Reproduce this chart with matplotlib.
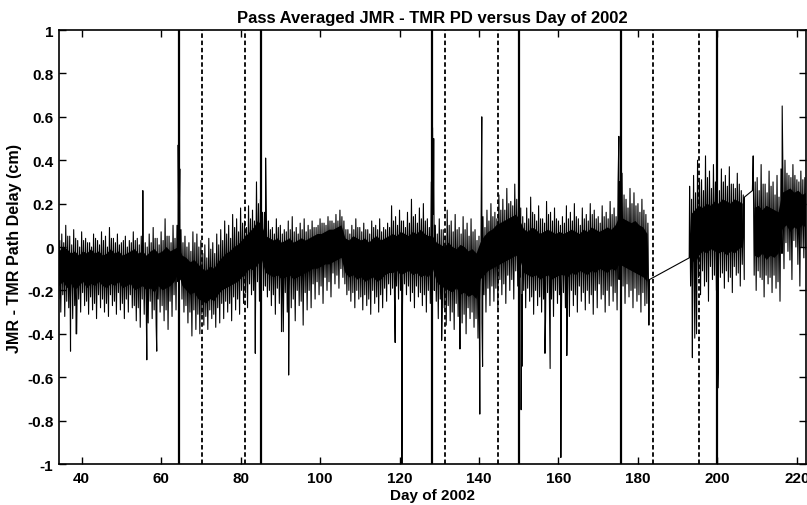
#!/usr/bin/env python3
# -*- coding: utf-8 -*-

#------------------------------------------------------------------------------
# PLOT: pass averaged JMR - TMR path delay versus day of 2002
#------------------------------------------------------------------------------

import numpy as np
import matplotlib
matplotlib.use('Agg')
import matplotlib.pyplot as plt; plt.close('all')

#------------------------------------------------------------------------------
# SETTINGS
#------------------------------------------------------------------------------

fontsize = 11
plt.rcParams['font.family'] = ['Liberation Sans', 'DejaVu Sans']
plt.rcParams['font.weight'] = 'bold'

#------------------------------------------------------------------------------
# DATA: per day two upper and two lower pass values,
# the solid core of the band, isolated spikes and the event markers
#------------------------------------------------------------------------------

nan = np.nan
day = np.arange(34, 223)

pd_hi = [
    0.09, 0.06, 0.10, 0.05, 0.08, 0.03, 0.07, 0.04, 0.02, 0.06,   # 34-43
    0.03, 0.07, 0.05, 0.09, 0.04, 0.06, 0.02, 0.05, 0.03, 0.07,   # 44-53
    0.04, 0.05, 0.02, 0.06, 0.09, 0.04, 0.07, 0.13, 0.05, 0.10,   # 54-63
    0.10, 0.08, 0.05, 0.02, 0.07, 0.06, 0.03, 0.01, 0.04, 0.02,   # 64-73
    0.06, 0.08, 0.12, 0.10, 0.15, 0.13, 0.18, 0.12, 0.19, 0.17,   # 74-83
    0.30, 0.22, 0.16, 0.12, 0.09, 0.13, 0.10, 0.08, 0.12, 0.14,   # 84-93
    0.09, 0.11, 0.13, 0.10, 0.12, 0.09, 0.13, 0.11, 0.14, 0.12,   # 94-103
    0.15, 0.17, 0.12, 0.08, 0.10, 0.13, 0.09, 0.11, 0.08, 0.12,   # 104-113
    0.10, 0.13, 0.09, 0.11, 0.19, 0.14, 0.17, 0.12, 0.16, 0.22,   # 114-123
    0.15, 0.18, 0.20, 0.13, 0.30, 0.10, 0.13, 0.08, 0.17, 0.12,   # 124-133
    0.15, 0.09, 0.14, 0.11, 0.13, 0.08, 0.05, 0.14, 0.17, 0.20,   # 134-143
    0.16, 0.24, 0.22, 0.27, 0.21, 0.29, 0.25, 0.14, 0.18, 0.23,   # 144-153
    0.15, 0.19, 0.13, 0.21, 0.16, 0.18, 0.12, 0.14, 0.19, 0.16,   # 154-163
    0.20, 0.13, 0.18, 0.15, 0.20, 0.17, 0.14, 0.19, 0.16, 0.21,   # 164-173
    0.18, 0.30, 0.34, 0.22, 0.27, 0.25, 0.20, 0.22, 0.15, nan,    # 174-183
    nan, nan, nan, nan, nan, nan, nan, nan, nan, 0.28,            # 184-193
    0.33, 0.40, 0.31, 0.42, 0.35, 0.38, 0.30, 0.36, 0.33, 0.37,   # 194-203
    0.29, 0.34, 0.26, nan, nan, 0.42, 0.32, 0.38, 0.29, 0.35,     # 204-213
    0.30, 0.33, 0.36, 0.40, 0.33, 0.38, 0.31, 0.35, 0.32]         # 214-222

pd_hi2 = [
    0.03, 0.02, 0.05, 0.01, 0.04, 0.00, 0.03, 0.02, 0.00, 0.04,   # 34-43
    0.01, 0.03, 0.00, 0.04, 0.02, 0.01, 0.03, 0.00, 0.02, 0.03,   # 44-53
    0.01, 0.03, 0.00, 0.02, 0.04, 0.01, 0.03, 0.05, 0.02, 0.04,   # 54-63
    0.05, 0.02, 0.00, -0.02, 0.02, 0.00, -0.03, -0.05, -0.01, -0.03,  # 64-73
    0.01, 0.03, 0.06, 0.04, 0.09, 0.07, 0.11, 0.09, 0.13, 0.12,   # 74-83
    0.20, 0.16, 0.10, 0.08, 0.06, 0.09, 0.06, 0.07, 0.08, 0.07,   # 84-93
    0.06, 0.08, 0.07, 0.08, 0.09, 0.10, 0.11, 0.10, 0.12, 0.11,   # 94-103
    0.12, 0.14, 0.08, 0.06, 0.08, 0.09, 0.07, 0.08, 0.06, 0.09,   # 104-113
    0.08, 0.07, 0.08, 0.09, 0.12, 0.10, 0.12, 0.09, 0.11, 0.14,   # 114-123
    0.11, 0.13, 0.12, 0.09, 0.15, 0.06, 0.08, 0.05, 0.10, 0.07,   # 124-133
    0.08, 0.06, 0.08, 0.05, 0.07, 0.03, 0.04, 0.09, 0.12, 0.14,   # 134-143
    0.13, 0.17, 0.17, 0.20, 0.19, 0.22, 0.18, 0.11, 0.13, 0.16,   # 144-153
    0.12, 0.13, 0.11, 0.15, 0.12, 0.13, 0.10, 0.11, 0.13, 0.12,   # 154-163
    0.14, 0.10, 0.13, 0.12, 0.15, 0.13, 0.11, 0.14, 0.13, 0.15,   # 164-173
    0.14, 0.22, 0.24, 0.18, 0.20, 0.19, 0.16, 0.17, 0.11, nan,    # 174-183
    nan, nan, nan, nan, nan, nan, nan, nan, nan, 0.22,            # 184-193
    0.25, 0.30, 0.26, 0.32, 0.27, 0.30, 0.26, 0.30, 0.28, 0.29,   # 194-203
    0.27, 0.29, 0.24, nan, nan, 0.30, 0.26, 0.29, 0.25, 0.28,     # 204-213
    0.24, 0.23, 0.31, 0.34, 0.32, 0.33, 0.30, 0.31, 0.30]         # 214-222

pd_lo = [
    -0.30, -0.32, -0.28, -0.33, -0.40, -0.30, -0.27, -0.31, -0.29, -0.33,   # 34-43
    -0.28, -0.30, -0.32, -0.27, -0.31, -0.29, -0.33, -0.30, -0.28, -0.34,   # 44-53
    -0.37, -0.31, -0.35, -0.33, -0.36, -0.30, -0.34, -0.38, -0.32, -0.29,   # 54-63
    -0.15, -0.30, -0.35, -0.41, -0.38, -0.40, -0.36, -0.38, -0.33, -0.37,   # 64-73
    -0.35, -0.33, -0.30, -0.34, -0.29, -0.31, -0.26, -0.28, -0.22, -0.30,   # 74-83
    -0.25, -0.20, -0.23, -0.27, -0.31, -0.26, -0.39, -0.30, -0.28, -0.34,   # 84-93
    -0.27, -0.36, -0.29, -0.28, -0.24, -0.22, -0.26, -0.20, -0.23, -0.17,   # 94-103
    -0.19, -0.14, -0.22, -0.25, -0.28, -0.24, -0.29, -0.27, -0.31, -0.26,   # 104-113
    -0.30, -0.28, -0.25, -0.22, -0.26, -0.24, -0.27, -0.22, -0.25, -0.28,   # 114-123
    -0.23, -0.27, -0.30, -0.26, -0.20, -0.33, -0.30, -0.36, -0.34, -0.38,   # 124-133
    -0.32, -0.35, -0.40, -0.33, -0.37, -0.42, -0.35, -0.30, -0.27, -0.25,   # 134-143
    -0.28, -0.22, -0.26, -0.20, -0.24, -0.18, -0.22, -0.28, -0.25, -0.31,   # 144-153
    -0.27, -0.30, -0.33, -0.29, -0.32, -0.26, -0.30, -0.28, -0.32, -0.27,   # 154-163
    -0.30, -0.25, -0.29, -0.26, -0.31, -0.28, -0.24, -0.30, -0.27, -0.25,   # 164-173
    -0.29, -0.22, -0.26, -0.23, -0.28, -0.25, -0.30, -0.27, -0.36, nan,     # 174-183
    nan, nan, nan, nan, nan, nan, nan, nan, nan, -0.30,                     # 184-193
    -0.40, -0.22, -0.18, -0.25, -0.15, -0.20, -0.14, -0.19, -0.16, -0.21,   # 194-203
    -0.13, -0.18, -0.15, nan, nan, -0.20, -0.14, -0.23, -0.17, -0.21,       # 204-213
    -0.19, -0.25, -0.10, -0.02, -0.15, 0.00, -0.18, -0.05, -0.08]           # 214-222

pd_lo2 = [
    -0.24, -0.22, -0.25, -0.23, -0.27, -0.24, -0.21, -0.25, -0.23, -0.26,   # 34-43
    -0.22, -0.24, -0.26, -0.22, -0.25, -0.21, -0.26, -0.24, -0.22, -0.27,   # 44-53
    -0.28, -0.24, -0.27, -0.25, -0.29, -0.24, -0.27, -0.29, -0.25, -0.22,   # 54-63
    -0.16, -0.24, -0.27, -0.30, -0.29, -0.31, -0.31, -0.32, -0.29, -0.31,   # 64-73
    -0.28, -0.26, -0.25, -0.26, -0.23, -0.24, -0.20, -0.21, -0.17, -0.20,   # 74-83
    -0.16, -0.12, -0.18, -0.20, -0.22, -0.19, -0.25, -0.21, -0.20, -0.24,   # 84-93
    -0.20, -0.25, -0.21, -0.20, -0.17, -0.16, -0.18, -0.14, -0.16, -0.12,   # 94-103
    -0.13, -0.10, -0.17, -0.20, -0.21, -0.20, -0.23, -0.22, -0.24, -0.20,   # 104-113
    -0.23, -0.22, -0.19, -0.17, -0.19, -0.18, -0.20, -0.17, -0.18, -0.21,   # 114-123
    -0.18, -0.21, -0.22, -0.20, -0.15, -0.25, -0.24, -0.28, -0.27, -0.30,   # 124-133
    -0.26, -0.29, -0.31, -0.28, -0.30, -0.33, -0.25, -0.22, -0.19, -0.18,   # 134-143
    -0.19, -0.15, -0.17, -0.13, -0.15, -0.11, -0.14, -0.20, -0.19, -0.23,   # 144-153
    -0.20, -0.23, -0.24, -0.21, -0.24, -0.20, -0.22, -0.21, -0.24, -0.20,   # 154-163
    -0.22, -0.18, -0.21, -0.20, -0.22, -0.20, -0.17, -0.22, -0.20, -0.18,   # 164-173
    -0.21, -0.15, -0.18, -0.17, -0.20, -0.19, -0.22, -0.21, -0.26, nan,     # 174-183
    nan, nan, nan, nan, nan, nan, nan, nan, nan, -0.18,                     # 184-193
    -0.25, -0.14, -0.11, -0.16, -0.09, -0.13, -0.10, -0.12, -0.11, -0.14,   # 194-203
    -0.09, -0.12, -0.08, nan, nan, -0.13, -0.11, -0.15, -0.13, -0.14,       # 204-213
    -0.13, -0.16, -0.03, 0.02, -0.06, 0.03, -0.08, 0.00, -0.01]             # 214-222

core_hi = [
    -0.02, 0.00, -0.01, -0.03, -0.02, -0.04, -0.02, -0.03, -0.01, -0.03,    # 34-43
    -0.02, -0.04, -0.03, -0.01, -0.03, -0.02, -0.04, -0.03, -0.02, -0.01,   # 44-53
    -0.03, -0.02, -0.04, -0.02, -0.01, -0.03, -0.02, 0.00, -0.02, -0.01,    # 54-63
    0.00, -0.04, -0.05, -0.07, -0.06, -0.08, -0.10, -0.11, -0.09, -0.10,    # 64-73
    -0.07, -0.05, -0.03, -0.02, 0.00, 0.01, 0.03, 0.05, 0.07, 0.09,         # 74-83
    0.12, 0.10, 0.05, 0.04, 0.03, 0.04, 0.02, 0.03, 0.04, 0.02,             # 84-93
    0.03, 0.04, 0.03, 0.04, 0.05, 0.06, 0.06, 0.07, 0.08, 0.08,             # 94-103
    0.09, 0.10, 0.04, 0.03, 0.05, 0.04, 0.03, 0.04, 0.02, 0.04,             # 104-113
    0.05, 0.03, 0.04, 0.05, 0.06, 0.05, 0.07, 0.06, 0.05, 0.07,             # 114-123
    0.06, 0.08, 0.06, 0.05, 0.05, 0.02, 0.01, 0.00, 0.02, 0.00,             # 124-133
    -0.01, 0.01, 0.00, -0.02, -0.01, -0.03, 0.02, 0.05, 0.07, 0.08,         # 134-143
    0.10, 0.11, 0.12, 0.13, 0.14, 0.15, 0.12, 0.08, 0.07, 0.09,             # 144-153
    0.08, 0.06, 0.07, 0.08, 0.07, 0.06, 0.07, 0.06, 0.07, 0.08,             # 154-163
    0.07, 0.06, 0.08, 0.07, 0.09, 0.08, 0.07, 0.08, 0.09, 0.08,             # 164-173
    0.10, 0.14, 0.13, 0.12, 0.11, 0.12, 0.10, 0.09, 0.06, nan,              # 174-183
    nan, nan, nan, nan, nan, nan, nan, nan, nan, 0.15,                      # 184-193
    0.17, 0.19, 0.18, 0.20, 0.19, 0.21, 0.20, 0.22, 0.21, 0.20,             # 194-203
    0.22, 0.21, 0.20, nan, nan, 0.18, 0.19, 0.17, 0.19, 0.18,               # 204-213
    0.17, 0.16, 0.25, 0.26, 0.27, 0.25, 0.26, 0.24, 0.25]                   # 214-222

core_lo = [
    -0.18, -0.16, -0.19, -0.17, -0.20, -0.18, -0.16, -0.19, -0.17, -0.18,   # 34-43
    -0.16, -0.18, -0.19, -0.17, -0.18, -0.16, -0.19, -0.18, -0.17, -0.20,   # 44-53
    -0.19, -0.18, -0.20, -0.19, -0.21, -0.18, -0.20, -0.19, -0.18, -0.16,   # 54-63
    -0.12, -0.18, -0.20, -0.22, -0.21, -0.24, -0.25, -0.26, -0.24, -0.25,   # 64-73
    -0.22, -0.20, -0.19, -0.18, -0.17, -0.16, -0.14, -0.12, -0.10, -0.11,   # 74-83
    -0.08, -0.06, -0.12, -0.13, -0.14, -0.13, -0.15, -0.14, -0.13, -0.15,   # 84-93
    -0.14, -0.13, -0.12, -0.11, -0.10, -0.10, -0.09, -0.08, -0.08, -0.07,   # 94-103
    -0.06, -0.05, -0.12, -0.14, -0.13, -0.15, -0.14, -0.16, -0.15, -0.14,   # 104-113
    -0.16, -0.15, -0.13, -0.12, -0.12, -0.11, -0.13, -0.12, -0.11, -0.13,   # 114-123
    -0.12, -0.14, -0.13, -0.14, -0.10, -0.16, -0.18, -0.19, -0.20, -0.21,   # 124-133
    -0.19, -0.22, -0.21, -0.23, -0.22, -0.24, -0.15, -0.13, -0.11, -0.10,   # 134-143
    -0.09, -0.08, -0.07, -0.06, -0.05, -0.04, -0.06, -0.12, -0.13, -0.14,   # 144-153
    -0.13, -0.15, -0.14, -0.13, -0.15, -0.14, -0.13, -0.13, -0.14, -0.12,   # 154-163
    -0.13, -0.11, -0.12, -0.13, -0.11, -0.12, -0.10, -0.11, -0.12, -0.10,   # 164-173
    -0.11, -0.08, -0.09, -0.10, -0.11, -0.12, -0.13, -0.14, -0.16, nan,     # 174-183
    nan, nan, nan, nan, nan, nan, nan, nan, nan, -0.05,                     # 184-193
    -0.08, -0.04, -0.02, -0.03, -0.01, -0.02, -0.03, -0.02, -0.04, -0.02,   # 194-203
    -0.03, -0.01, 0.00, nan, nan, -0.04, -0.05, -0.03, -0.06, -0.04,        # 204-213
    -0.05, -0.03, 0.08, 0.10, 0.07, 0.09, 0.08, 0.10, 0.09]                 # 214-222

# isolated spikes and the end points either side of the two data gaps
spike_day = [37.2, 38.6, 55.4, 56.4, 58.9, 64.3, 64.4, 64.45, 64.6, 64.7, 64.8,
             83.7, 86.3, 90.3, 92.1, 118.9, 120.6, 128.3, 128.4, 128.6, 128.8,
             130.6, 135.2, 140.2, 140.7, 140.9, 150.6, 150.8, 156.6, 157.9,
             160.6, 162.1, 175.2, 175.4, 182.9, 192.9, 193.7, 194.3, 200.1,
             200.2, 206.8, 208.8, 216.3]
spike_val = [-0.48, -0.40, 0.26, -0.52, -0.48, 0.47, 0.21, 0.38, 0.22, 0.36, -0.10,
             -0.49, 0.41, -0.39, -0.59, -0.44, -1.00, 0.55, 0.20, 0.50, 0.10,
             -0.43, -0.47, -0.77, 0.60, -0.55, -0.75, -0.55, -0.49, -0.56,
             -0.97, -0.50, 0.51, 0.30, -0.15, -0.05, -0.51, -0.42, -0.65,
             -0.55, 0.23, 0.26, 0.65]

solid_days = [64.5, 85.2, 128.2, 150.1, 175.7, 199.8]
dashed_days = [70.2, 81.1, 131.5, 144.9, 183.8, 195.3]

xticks = [40, 60, 80, 100, 120, 140, 160, 180, 200, 220]
yticks = [-1, -0.8, -0.6, -0.4, -0.2, 0, 0.2, 0.4, 0.6, 0.8, 1]
yticklabels = ['-1', '-0.8', '-0.6', '-0.4', '-0.2', '0', '0.2', '0.4', '0.6', '0.8', '1']

#------------------------------------------------------------------------------
# BUILD the pass series: four passes a day swinging between the extents
#------------------------------------------------------------------------------

pd_hi = np.array(pd_hi); pd_lo = np.array(pd_lo)
pd_hi2 = np.array(pd_hi2); pd_lo2 = np.array(pd_lo2)
core_hi = np.array(core_hi); core_lo = np.array(core_lo)
ok = ~np.isnan(pd_hi)
d = day[ok]
t = np.concatenate([d, d + 0.25, d + 0.5, d + 0.75, spike_day])
v = np.concatenate([pd_hi[ok], pd_lo2[ok], pd_hi2[ok], pd_lo[ok], spike_val])
order = np.argsort(t, kind='stable')
t = t[order]; v = v[order]

#------------------------------------------------------------------------------
# PLOT
#------------------------------------------------------------------------------

figstr = 'out.png'
titlestr = 'Pass Averaged JMR - TMR PD versus Day of 2002'

fig = plt.figure(figsize=(8.07, 5.06), dpi=100)
ax = fig.add_axes([0.0731, 0.081, 0.9257, 0.8577])
ax.fill_between(day + 0.375, core_lo, core_hi, color='black', lw=0)
ax.plot(t, v, color='black', lw=0.8)
for x in solid_days:
    ax.axvline(x=x, color='black', lw=1.6)
for x in dashed_days:
    ax.axvline(x=x, color='black', lw=1.3, linestyle=(0, (2.5, 1.5)))
ax.set_xlim(34.3, 222.3)
ax.set_ylim(-1, 1)
ax.set_xticks(xticks)
ax.set_yticks(yticks)
ax.set_yticklabels(yticklabels)
ax.tick_params(direction='in', top=True, right=True, length=5, width=1,
               labelsize=fontsize)
ax.tick_params(axis='y', pad=4)
ax.tick_params(axis='x', pad=5)
for s in ax.spines.values():
    s.set_linewidth(1.2)
ax.set_xlabel('Day of 2002', fontsize=fontsize, fontweight='bold', labelpad=2)
ax.set_ylabel('JMR - TMR Path Delay (cm)', fontsize=11.6, fontweight='bold', labelpad=4)
ax.set_title(titlestr, fontsize=12, fontweight='bold', pad=6)
plt.savefig(figstr, dpi=100)
plt.close(fig)

#------------------------------------------------------------------------------
print('** END')
